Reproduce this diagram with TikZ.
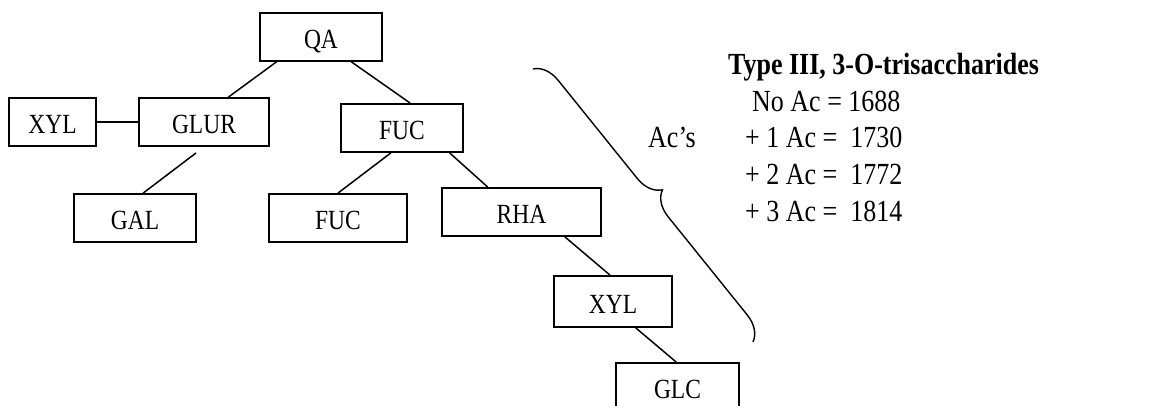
\documentclass[tikz,border=0pt]{standalone}
\usepackage{fontspec}
\setmainfont{Liberation Serif}
\usepackage{graphicx}
\usetikzlibrary{calc,decorations.pathreplacing}
\newcommand{\tallt}[1]{\scalebox{1}[1.18]{#1}}
\tikzset{
	sugar/.style={draw, line width=1.8pt, inner sep=0pt, minimum height=48pt, text height=24pt, text depth=0pt, font=\fontsize{23.5}{28}\selectfont},
	link/.style={line width=1.5pt},
	note/.style={anchor=base west, inner sep=0pt, font=\fontsize{26}{31}\selectfont}
}

\begin{document}
\begin{tikzpicture}[x=1pt, y=-1pt]
			%%%%% START %%%%%
			\useasboundingbox (0, 0) rectangle (1163, 406);
			
			\node[sugar, minimum width=122pt] (qa) at (321, 37) {\tallt{QA}};
			\node[sugar, minimum width=87pt] (xylA) at (52.5, 122) {\tallt{XYL}};
			\node[sugar, minimum width=130pt] (glur) at (204, 122) {\tallt{GLUR}};
			\node[sugar, minimum width=122pt] (fucA) at (402, 128) {\tallt{FUC}};
			\node[sugar, minimum width=122pt] (gal) at (135, 218) {\tallt{GAL}};
			\node[sugar, minimum width=138pt] (fucB) at (338, 218) {\tallt{FUC}};
			\node[sugar, minimum width=159pt] (rha) at (521.5, 212) {\tallt{RHA}};
			\node[sugar, minimum width=118pt, minimum height=51pt] (xylB) at (613, 301.5) {\tallt{XYL}};
			\node[sugar, minimum width=123pt] (glc) at (677.5, 387) {\tallt{GLC}};
			
			\draw[link] ($(qa.south west)!0.14!(qa.south east)$) -- ($(glur.north west)!0.685!(glur.north east)$);
			\draw[link] ($(qa.south west)!0.746!(qa.south east)$) -- ($(fucA.north west)!0.566!(fucA.north east)$);
			\draw[link] (xylA.east) -- (glur.west);
			\draw[link] ($(glur.south west)!0.44!(glur.south east)+(0, 6)$) -- ($(gal.north west)!0.566!(gal.north east)$);
			\draw[link] ($(fucA.south west)!0.41!(fucA.south east)$) -- (fucB.north);
			\draw[link] ($(fucA.south west)!0.885!(fucA.south east)$) -- ($(rha.north west)!0.29!(rha.north east)$);
			\draw[link] ($(rha.south west)!0.77!(rha.south east)$) -- ($(xylB.north west)!0.475!(xylB.north east)$);
			\draw[link] ($(xylB.south west)!0.69!(xylB.south east)$) -- ($(glc.north west)!0.49!(glc.north east)$);
			
			\coordinate (brtop) at (533, 69);
			\coordinate (brbot) at (753, 342);
			\draw[line width=1.4pt, decorate, decoration={brace, amplitude=25pt}] (brtop) -- (brbot);
			
			\node[note] (acs) at (648, 148) {\tallt{Ac’s}};
			
			\node[note, font=\bfseries\fontsize{26}{31}\selectfont] (title) at (728, 75) {\tallt{Type III, 3-O-trisaccharides}};
			\node[note] (noac) at (752, 112) {\tallt{No Ac = 1688}};
			\node[note] (acone) at (745, 148) {\tallt{+ 1 Ac =\ \ 1730}};
			\node[note] (actwo) at (745, 185) {\tallt{+ 2 Ac =\ \ 1772}};
			\node[note] (acthree) at (745, 222) {\tallt{+ 3 Ac =\ \ 1814}};
			
			%%%%% END %%%%%
\end{tikzpicture}
\end{document}
